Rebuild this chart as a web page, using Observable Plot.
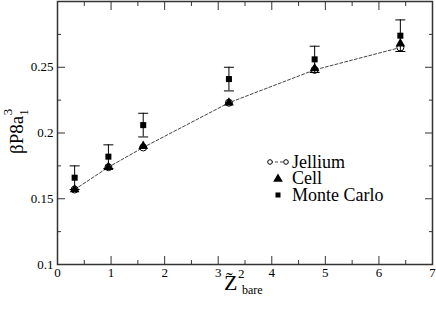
<!DOCTYPE html>
<html>
<head>
<meta charset="utf-8">
<script src="https://cdn.jsdelivr.net/npm/d3@7"></script>
<script src="https://cdn.jsdelivr.net/npm/@observablehq/plot@0.6"></script>
<style>
  html, body { margin: 0; padding: 0; background: #fff; }
  #chart { position: relative; width: 436px; height: 309px; }
  #chart svg, #chart svg text { font-family: "Liberation Serif", "Times New Roman", serif !important; }
</style>
</head>
<body>
<div id="chart"></div>
<script>
// Data
const zbare = [0.32, 0.95, 1.6, 3.2, 4.8, 6.4];
const jellium = [0.157, 0.174, 0.189, 0.223, 0.248, 0.265];
const cell = [0.157, 0.174, 0.190, 0.223, 0.249, 0.268];
const monteCarlo = [0.166, 0.182, 0.206, 0.241, 0.256, 0.274];
const monteCarloErr = [0.009, 0.009, 0.009, 0.009, 0.010, 0.012];

const xTicks = [0, 1, 2, 3, 4, 5, 6, 7];
const xMinorTicks = [0.5, 1.5, 2.5, 3.5, 4.5, 5.5, 6.5];
const yTicks = [0.1, 0.15, 0.2, 0.25];
const yTicksAll = [0.1, 0.15, 0.2, 0.25, 0.3];
const yMinorTicks = [0.125, 0.175, 0.225, 0.275];
const legendLabels = ["Jellium", "Cell", "Monte Carlo"];

const jelliumData = zbare.map((x, i) => ({x, y: jellium[i]}));
const cellData = zbare.map((x, i) => ({x, y: cell[i]}));
const mcData = zbare.map((x, i) => ({x, y: monteCarlo[i], lo: monteCarlo[i] - monteCarloErr[i], hi: monteCarlo[i] + monteCarloErr[i]}));

const capSymbol = {draw(ctx) { ctx.moveTo(-5, 0); ctx.lineTo(5, 0); }};
const axisColor = "#333";
const serif = "'Liberation Serif', 'Times New Roman', serif";

const chart = Plot.plot({
  width: 436,
  height: 309,
  marginLeft: 57,
  marginRight: 4,
  marginTop: 1,
  marginBottom: 45,
  style: {fontFamily: serif, fontSize: "13px", background: "#fff", color: "#000"},
  x: {domain: [0, 7]},
  y: {domain: [0.1, 0.3]},
  marks: [
    // tick labels
    Plot.axisX(xTicks, {anchor: "bottom", tickSize: 0, tickPadding: 3, label: null, tickFormat: d => String(d)}),
    Plot.axisY(yTicks, {anchor: "left", tickSize: 0, tickPadding: 4, label: null, tickFormat: d => String(d)}),
    // inward ticks
    Plot.axisX(xTicks, {anchor: "bottom", tickSize: -8, label: null, tickFormat: () => "", stroke: axisColor}),
    Plot.axisX(xMinorTicks, {anchor: "bottom", tickSize: -4, label: null, tickFormat: () => "", stroke: axisColor}),
    Plot.axisX(xTicks, {anchor: "top", tickSize: -8, label: null, tickFormat: () => "", stroke: axisColor}),
    Plot.axisX(xMinorTicks, {anchor: "top", tickSize: -4, label: null, tickFormat: () => "", stroke: axisColor}),
    Plot.axisY(yTicksAll, {anchor: "left", tickSize: -8, label: null, tickFormat: () => "", stroke: axisColor}),
    Plot.axisY(yMinorTicks, {anchor: "left", tickSize: -4, label: null, tickFormat: () => "", stroke: axisColor}),
    Plot.axisY(yTicksAll, {anchor: "right", tickSize: -8, label: null, tickFormat: () => "", stroke: axisColor}),
    Plot.axisY(yMinorTicks, {anchor: "right", tickSize: -4, label: null, tickFormat: () => "", stroke: axisColor}),
    // jellium dashed line
    Plot.line(jelliumData, {x: "x", y: "y", stroke: "#444", strokeWidth: 1, strokeDasharray: "3,2"}),
    Plot.dot(jelliumData, {x: "x", y: "y", r: 3.5, fill: "#fff", stroke: "#000", strokeWidth: 1}),
    Plot.dot(cellData, {x: "x", y: "y", symbol: "triangle", r: 3.6, fill: "#000", stroke: "none"}),
    // error bars
    Plot.ruleX(mcData, {x: "x", y1: "lo", y2: "hi", stroke: "#000", strokeWidth: 1}),
    Plot.dot(mcData, {x: "x", y: "hi", symbol: capSymbol, stroke: "#000", strokeWidth: 1, fill: "none"}),
    Plot.dot(mcData, {x: "x", y: "lo", symbol: capSymbol, stroke: "#000", strokeWidth: 1, fill: "none"}),
    Plot.dot(mcData, {x: "x", y: "y", symbol: "square", r: 3.4, fill: "#000", stroke: "none"}),
    Plot.frame({stroke: axisColor, strokeWidth: 1.5})
  ]
});

document.getElementById("chart").appendChild(chart);

const svg = d3.select(chart);

// Y axis label: βP8a_1^3
const yl = svg.append("text")
  .attr("transform", "translate(23,154) rotate(-90)")
  .attr("text-anchor", "start")
  .attr("font-size", 19)
  .attr("fill", "#000");
yl.append("tspan").text("βP8a");
yl.append("tspan").attr("font-size", 13).attr("dy", 5).text("1");
yl.append("tspan").attr("font-size", 13).attr("dx", -6).attr("dy", -16).text("3");

// X axis label: Z̃^2_bare
const xl = svg.append("g").attr("text-anchor", "start").attr("fill", "#000");
xl.append("text").attr("x", 224).attr("y", 290).attr("font-size", 22).text("Z");
xl.append("text").attr("x", 226).attr("y", 287).attr("font-size", 20).text("\u02DC");
xl.append("text").attr("x", 238).attr("y", 278).attr("font-size", 13).text("2");
xl.append("text").attr("x", 242).attr("y", 294).attr("font-size", 12).text("bare");

// Legend
const lg = svg.append("g").attr("font-size", 18).attr("fill", "#000").attr("text-anchor", "start");
lg.append("line").attr("x1", 270).attr("x2", 286).attr("y1", 162).attr("y2", 162)
  .attr("stroke", "#444").attr("stroke-dasharray", "3,2");
[270, 286].forEach(cx => lg.append("circle").attr("cx", cx).attr("cy", 162).attr("r", 2.3)
  .attr("fill", "#fff").attr("stroke", "#000"));
lg.append("path").attr("transform", "translate(278,179)")
  .attr("d", d3.symbol(d3.symbolTriangle, 3.6 * 3.6 * Math.PI)()).attr("fill", "#000");
lg.append("path").attr("transform", "translate(278,195)")
  .attr("d", d3.symbol(d3.symbolSquare, 3.4 * 3.4 * Math.PI * 0.7)()).attr("fill", "#000");
[168, 184, 201].forEach((y, i) => lg.append("text").attr("x", 292).attr("y", y).text(legendLabels[i]));
</script>
</body>
</html>
